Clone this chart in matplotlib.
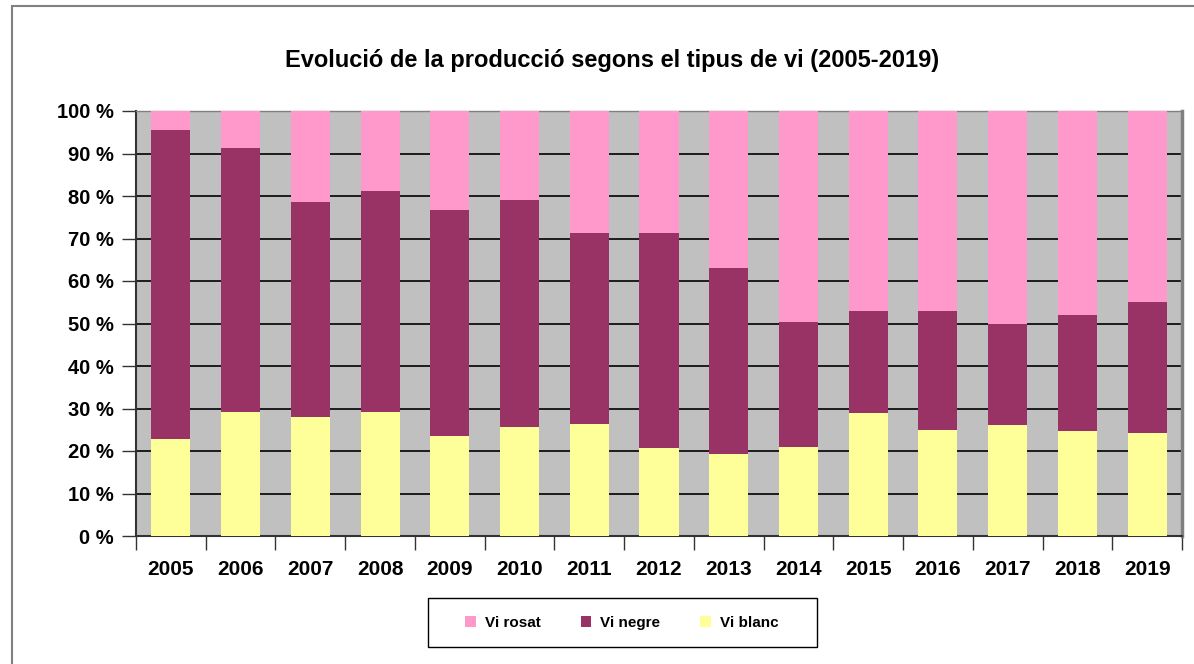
import numpy as np
import matplotlib.pyplot as plt
from matplotlib.patches import Rectangle

# Production share by wine type (%)
years = ['2005', '2006', '2007', '2008', '2009', '2010', '2011', '2012',
         '2013', '2014', '2015', '2016', '2017', '2018', '2019']
vi_blanc = [22.8, 29.1, 27.9, 29.1, 23.5, 25.6, 26.3, 20.6, 19.2, 20.9,
            28.9, 24.9, 26.1, 24.6, 24.2]
vi_negre = [72.7, 62.2, 50.7, 52.1, 53.2, 53.4, 45.0, 50.7, 43.8, 29.4,
            24.0, 28.0, 23.7, 27.4, 30.8]
vi_rosat = [4.5, 8.7, 21.4, 18.8, 23.3, 21.0, 28.7, 28.7, 37.0, 49.7,
            47.1, 47.1, 50.2, 48.0, 45.0]

plt.rcParams['font.family'] = ['Liberation Sans', 'DejaVu Sans']

fig = plt.figure(figsize=(11.94, 6.64), dpi=100)
ax = fig.add_axes([136 / 1194, 1 - 536 / 664, (1182 - 136) / 1194, (536 - 111) / 664])

x = np.arange(len(years))
w = 0.56
blanc = np.array(vi_blanc)
negre = np.array(vi_negre)
rosat = np.array(vi_rosat)

ax.bar(x, blanc, w, color='#FFFF99', label='Vi blanc', zorder=3)
ax.bar(x, negre, w, bottom=blanc, color='#993366', label='Vi negre', zorder=3)
ax.bar(x, rosat, w, bottom=blanc + negre, color='#FF99CC', label='Vi rosat', zorder=3)

ax.set_facecolor('#C0C0C0')
ax.set_xlim(-0.5, len(years) - 0.5)
ax.set_ylim(0, 100)
ax.set_yticks(np.arange(0, 101, 10))
ax.set_yticklabels([f'{v} %' for v in range(0, 101, 10)])
ax.yaxis.grid(True, color='#000000', linewidth=1.2, zorder=1)
ax.set_axisbelow(True)

ax.set_xticks(x)
ax.set_xticklabels(years)
ax.set_xticks(np.arange(-0.5, len(years), 1), minor=True)
ax.tick_params(axis='x', which='major', length=0, pad=17)
ax.tick_params(axis='x', which='minor', length=10, width=1, color='#333333')
ax.tick_params(axis='y', length=10, width=1, pad=6, color='#333333')
for lab in ax.get_xticklabels():
    lab.set_fontsize(15)
    lab.set_fontweight('bold')
for lab in ax.get_yticklabels():
    lab.set_fontsize(14.5)
    lab.set_fontweight('bold')

for s in ['left', 'bottom']:
    ax.spines[s].set_color('#333333')
    ax.spines[s].set_linewidth(1.5)
ax.spines['top'].set_color('#808080')
ax.spines['top'].set_linewidth(1)
ax.spines['right'].set_color('#808080')
ax.spines['right'].set_linewidth(2.5)

fig.text(612 / 1194, 1 - 60 / 664, 'Evolució de la producció segons el tipus de vi (2005-2019)',
         ha='center', va='center', fontsize=17, fontweight='bold')

handles, labels = ax.get_legend_handles_labels()
order = [2, 1, 0]
leg = fig.legend([handles[i] for i in order], [labels[i] for i in order],
                 loc='center', bbox_to_anchor=(622 / 1194, 1 - 623 / 664), ncol=3,
                 frameon=False, prop={'weight': 'bold', 'size': 11},
                 handlelength=0.7, handleheight=0.7,
                 columnspacing=2.6, handletextpad=0.6)

# legend box drawn by hand (wider padding than matplotlib's frame)
fig.patches.append(Rectangle((428 / 1194, 1 - 647 / 664), (817 - 428) / 1194, (647 - 598) / 664,
                             transform=fig.transFigure, fill=False, edgecolor='#000000', linewidth=1))

# outer border (left and top visible)
fig.patches.append(Rectangle((12 / 1194, -0.1), 1.2, 1 - 6 / 664 + 0.1, transform=fig.transFigure,
                             fill=False, edgecolor='#808080', linewidth=1.5))

fig.savefig('out.png', dpi=100)
